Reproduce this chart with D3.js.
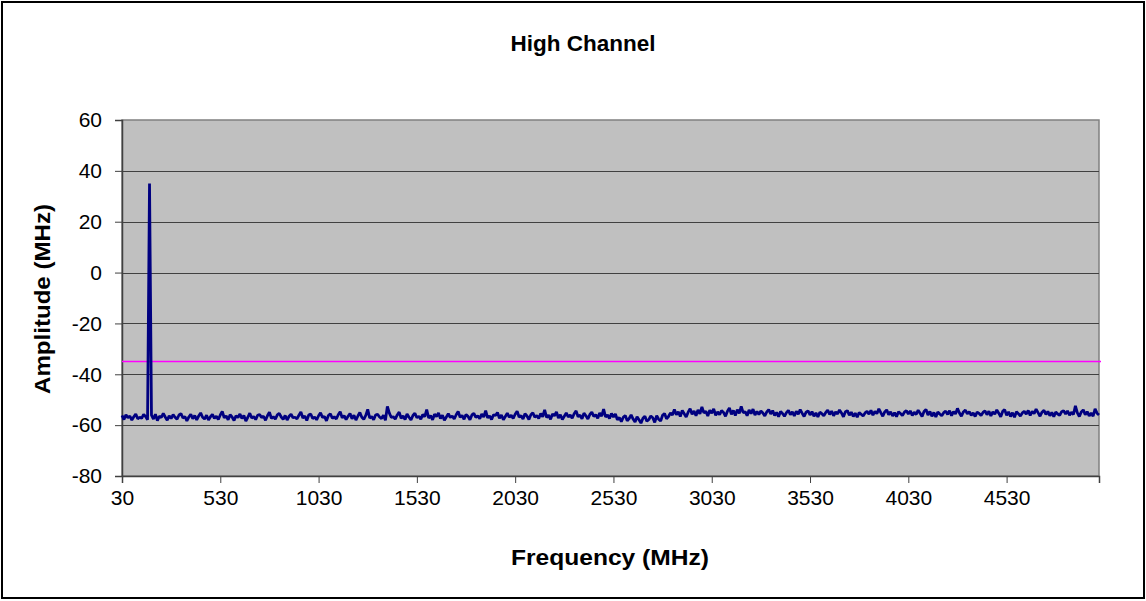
<!DOCTYPE html>
<html>
<head>
<meta charset="utf-8">
<script src="https://cdn.jsdelivr.net/npm/d3@7"></script>
<style>
  body { margin: 0; background: #fff; }
  text { font-family: Arial, "Liberation Sans", sans-serif; }
</style>
</head>
<body>
<div id="chart"></div>
<script>
// frequency grid: 30 MHz to 5000 MHz, 10 MHz steps
const freqStart = 30;
const freqStep = 10;

const amplitude = [
  -56.2,-57.8,-55.9,-57.1,-56.4,-58.0,-56.7,-55.6,-57.5,-56.9,
  -57.3,-55.8,-56.6,-57.9,35.0,-56.1,-57.6,-55.7,-58.2,-56.5,
  -57.0,-55.4,-56.8,-58.1,-56.3,-57.4,-55.9,-56.9,-57.7,-56.0,
  -55.5,-57.2,-56.6,-58.3,-56.8,-55.7,-57.5,-56.2,-57.9,-56.4,
  -55.2,-56.9,-57.6,-56.1,-58.0,-56.7,-55.8,-57.3,-56.5,-57.8,
  -56.0,-54.6,-57.1,-56.4,-57.9,-55.9,-56.8,-58.2,-56.3,-57.0,
  -55.6,-57.4,-56.2,-58.4,-56.9,-55.3,-57.2,-56.6,-57.8,-56.1,
  -55.8,-57.0,-56.5,-58.1,-56.3,-54.9,-57.3,-56.7,-57.6,-56.0,
  -55.4,-56.8,-57.7,-56.2,-58.0,-56.5,-55.7,-57.1,-56.9,-57.5,
  -56.1,-54.8,-57.2,-56.4,-58.2,-56.0,-55.6,-57.4,-56.8,-57.9,
  -56.3,-55.1,-57.0,-56.6,-58.3,-56.2,-55.5,-57.3,-56.7,-57.6,
  -55.9,-54.7,-57.1,-56.3,-57.8,-56.5,-55.4,-57.5,-56.1,-58.0,
  -56.4,-55.0,-56.9,-57.7,-56.2,-53.8,-57.2,-56.6,-57.9,-56.0,
  -55.7,-56.8,-57.4,-56.1,-58.1,-52.6,-55.3,-57.0,-56.7,-57.6,
  -56.0,-54.9,-57.3,-56.4,-57.8,-55.6,-56.9,-58.0,-56.2,-55.3,
  -57.1,-56.5,-57.7,-55.8,-56.7,-53.9,-57.2,-56.3,-57.9,-55.7,
  -56.6,-55.2,-57.4,-56.1,-58.1,-56.8,-55.5,-57.0,-56.4,-57.6,
  -55.9,-54.6,-56.9,-56.2,-57.7,-55.8,-56.5,-57.9,-56.0,-55.4,
  -57.0,-56.3,-57.5,-55.6,-56.8,-54.3,-57.1,-56.4,-57.8,-55.9,
  -56.2,-55.0,-57.3,-56.0,-57.9,-56.6,-55.3,-56.9,-56.1,-57.4,
  -55.7,-54.5,-56.8,-56.3,-57.6,-55.5,-56.4,-57.8,-55.9,-55.1,
  -56.9,-56.2,-57.4,-55.4,-56.7,-54.0,-57.0,-56.1,-57.7,-55.6,
  -56.3,-54.8,-57.2,-55.9,-57.8,-56.5,-55.2,-56.8,-56.0,-57.3,
  -55.5,-54.4,-56.7,-56.1,-57.5,-55.3,-56.3,-57.6,-55.8,-54.9,
  -56.6,-55.9,-57.3,-55.2,-56.5,-53.7,-56.8,-56.0,-57.4,-55.4,
  -56.8,-55.6,-57.9,-57.0,-58.6,-56.9,-56.2,-58.3,-57.4,-56.0,
  -57.6,-58.8,-56.7,-57.9,-59.2,-57.3,-56.5,-58.5,-57.8,-56.4,
  -57.1,-58.9,-56.3,-57.7,-58.4,-56.1,-55.4,-57.5,-56.6,-55.2,
  -56.0,-53.8,-55.9,-54.7,-56.6,-54.2,-55.5,-56.8,-54.9,-53.5,
  -55.7,-54.4,-56.3,-54.0,-55.6,-52.8,-55.2,-54.6,-56.4,-54.1,
  -55.3,-53.6,-56.1,-54.8,-55.9,-54.3,-55.0,-56.5,-54.5,-53.2,
  -55.8,-54.2,-56.2,-53.9,-55.4,-52.6,-55.1,-54.7,-56.3,-54.0,
  -55.5,-53.7,-56.0,-54.6,-55.8,-54.4,-55.2,-56.4,-54.8,-53.9,
  -55.6,-54.3,-56.2,-55.0,-56.7,-54.6,-55.4,-56.5,-55.1,-54.2,
  -55.9,-54.8,-56.4,-54.5,-55.7,-53.9,-55.3,-56.6,-54.9,-54.4,
  -56.0,-54.7,-56.5,-55.2,-56.8,-54.9,-55.5,-56.3,-55.0,-54.1,
  -55.8,-54.5,-56.3,-54.8,-55.6,-54.0,-55.2,-56.7,-54.7,-54.3,
  -56.1,-54.9,-56.6,-55.3,-56.9,-55.0,-55.7,-56.4,-55.2,-54.6,
  -55.7,-54.2,-56.1,-54.6,-55.5,-53.6,-55.1,-56.5,-54.8,-54.0,
  -55.9,-54.8,-56.4,-55.1,-56.7,-54.7,-55.4,-56.2,-54.9,-54.3,
  -55.6,-54.4,-56.2,-54.9,-55.8,-54.1,-55.3,-56.6,-54.6,-53.8,
  -56.0,-54.6,-56.5,-55.0,-56.8,-54.8,-55.6,-56.3,-55.1,-54.5,
  -55.8,-54.3,-56.3,-54.7,-55.6,-53.4,-55.2,-56.5,-54.8,-54.1,
  -55.5,-54.7,-56.1,-55.2,-56.6,-54.9,-55.4,-56.2,-55.0,-54.4,
  -55.9,-54.5,-56.4,-54.8,-55.7,-54.0,-55.3,-56.7,-54.6,-53.9,
  -56.1,-54.8,-56.6,-55.1,-56.9,-54.7,-55.5,-56.4,-55.2,-54.6,
  -55.7,-54.2,-56.2,-54.6,-55.5,-53.7,-55.1,-56.5,-54.9,-54.2,
  -55.8,-54.6,-56.3,-55.0,-56.7,-54.8,-55.6,-56.1,-54.7,-54.3,
  -55.6,-54.4,-56.1,-54.9,-55.8,-52.4,-55.2,-56.6,-54.8,-54.0,
  -55.9,-54.7,-56.4,-55.2,-56.5,-53.6,-55.3,-56.0
];

const limitLine = -35;
const xTicks = [30, 530, 1030, 1530, 2030, 2530, 3030, 3530, 4030, 4530];
const yTicks = [60, 40, 20, 0, -20, -40, -60, -80];

const data = amplitude.map((v, i) => ({ freq: freqStart + i * freqStep, amp: v }));

const W = 1146, H = 601;
const plot = { left: 122, right: 1099, top: 120, bottom: 476 };
const fontFam = "Arial, 'Liberation Sans', sans-serif";

const svg = d3.select("#chart").append("svg")
  .attr("width", W)
  .attr("height", H);

// outer frame
svg.append("rect")
  .attr("x", 2).attr("y", 2)
  .attr("width", W - 4).attr("height", H - 5)
  .style("fill", "#fff")
  .style("stroke", "#000")
  .style("stroke-width", 2);

const x = d3.scaleLinear().domain([30, 5000]).range([plot.left, plot.right]);
const y = d3.scaleLinear().domain([-80, 60]).range([plot.bottom, plot.top]);

// plot background
svg.append("rect")
  .attr("x", plot.left).attr("y", plot.top)
  .attr("width", plot.right - plot.left).attr("height", plot.bottom - plot.top)
  .style("fill", "#c0c0c0")
  .style("stroke", "#808080")
  .style("stroke-width", 1.5);

// gridlines
svg.append("g")
  .selectAll("line")
  .data(yTicks.filter(d => d !== -80 && d !== 60))
  .enter().append("line")
  .attr("x1", plot.left).attr("x2", plot.right)
  .attr("y1", d => Math.round(y(d)) + 0.5)
  .attr("y2", d => Math.round(y(d)) + 0.5)
  .style("stroke", "#404040")
  .style("stroke-width", 1);

// y axis
const yAxis = svg.append("g")
  .attr("transform", `translate(${plot.left},0)`)
  .call(d3.axisLeft(y).tickValues(yTicks).tickSize(7).tickPadding(13).tickFormat(d => String(d)));
yAxis.select(".domain").style("stroke", "#404040").style("stroke-width", 1.5);
yAxis.selectAll(".tick line").style("stroke", "#404040");
yAxis.selectAll("text").style("font-size", "21px").style("fill", "#000")
  .style("font-family", fontFam);

// x axis
const xAxis = svg.append("g")
  .attr("transform", `translate(0,${plot.bottom})`)
  .call(d3.axisBottom(x).tickValues(xTicks).tickSize(7).tickPadding(7).tickFormat(d => String(d)));
xAxis.select(".domain").style("stroke", "#404040").style("stroke-width", 1.5);
xAxis.selectAll(".tick line").style("stroke", "#404040");
xAxis.selectAll("text").style("font-size", "21px").style("fill", "#000")
  .style("font-family", fontFam);

// limit line
svg.append("line")
  .attr("x1", plot.left).attr("x2", plot.right + 2)
  .attr("y1", y(limitLine)).attr("y2", y(limitLine))
  .style("stroke", "#ff00ff")
  .style("stroke-width", 1.5);

// measured trace
const line = d3.line()
  .x(d => x(d.freq))
  .y(d => y(d.amp));

svg.append("path")
  .datum(data)
  .attr("d", line)
  .style("fill", "none")
  .style("stroke", "#000080")
  .style("stroke-width", 2.8)
  .style("stroke-linejoin", "bevel");

// titles
svg.append("text")
  .attr("x", 583).attr("y", 51)
  .style("text-anchor", "middle")
  .style("font-size", "22.5px")
  .style("font-weight", "bold")
  .text("High Channel");

svg.append("text")
  .attr("x", 610).attr("y", 565)
  .style("text-anchor", "middle")
  .style("font-size", "22px")
  .style("font-weight", "bold")
  .attr("textLength", 198)
  .attr("lengthAdjust", "spacingAndGlyphs")
  .text("Frequency (MHz)");

svg.append("text")
  .attr("transform", "translate(50,299) rotate(-90)")
  .style("text-anchor", "middle")
  .style("font-size", "22px")
  .style("font-weight", "bold")
  .attr("textLength", 190)
  .attr("lengthAdjust", "spacingAndGlyphs")
  .text("Amplitude (MHz)");
</script>
</body>
</html>
